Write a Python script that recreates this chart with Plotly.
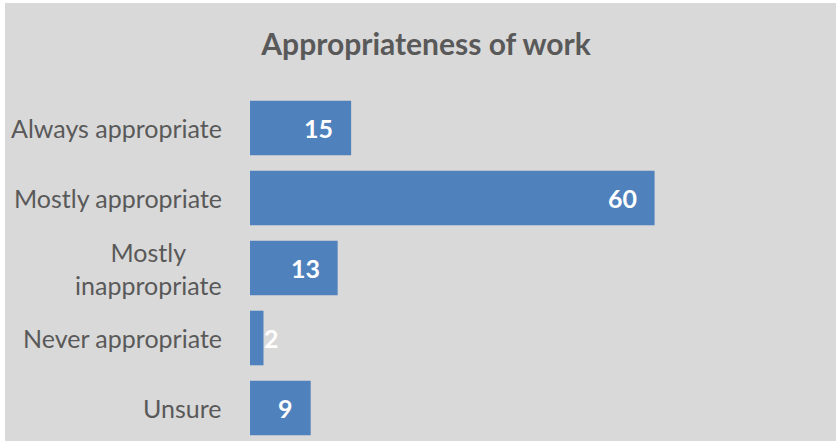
import plotly.graph_objects as go

# Survey responses: appropriateness of work
categories = ["Always appropriate", "Mostly appropriate", "Mostly<br>inappropriate",
              "Never appropriate", "Unsure"]
counts = [15, 60, 13, 2, 9]
title_text = "Appropriateness of work"

BAR_COLOR = "#4f81bd"
BG = "#d9d9d9"
TEXT_GREY = "#595959"
FONT = "Lato"

W, H = 836, 441
ML, MR, MT, MB = 250, 114, 93, 0
X_MAX = 70
plot_w = W - ML - MR
px_per_unit = plot_w / X_MAX
plot_h = H - MT - MB
row_px = 70.0
y_bottom = -0.5 + plot_h / row_px

idx = list(range(len(categories)))

fig = go.Figure(go.Bar(
    x=counts, y=idx, orientation="h",
    marker=dict(color=BAR_COLOR, line=dict(width=0)),
    width=0.78, hoverinfo="skip",
))

annotations = []
# value labels: inside the bar end, or just past it when the bar is too short
for i, v in zip(idx, counts):
    label = f"<b>{v}</b>"
    inside = v * px_per_unit > 40
    annotations.append(dict(
        x=v, y=i, xref="x", yref="y", text=label, showarrow=False,
        xanchor="right" if inside else "left",
        xshift=-16 if inside else -1,
        font=dict(family=FONT, size=25, color="white"),
    ))
# category labels, centred line by line
for i, c in zip(idx, categories):
    annotations.append(dict(
        x=0, y=i, xref="paper", yref="y", text=c, showarrow=False,
        xanchor="right", xshift=-26, align="center",
        font=dict(family=FONT, size=25, color=TEXT_GREY),
    ))

fig.update_layout(
    width=W, height=H,
    margin=dict(l=ML, r=MR, t=MT, b=MB, pad=0),
    paper_bgcolor="white", plot_bgcolor=BG,
    showlegend=False,
    title=dict(text=f"<b>{title_text}</b>", x=426 / W, xanchor="center",
               y=1 - 44 / H, yanchor="middle", xref="container", yref="container",
               font=dict(family=FONT, size=30, color=TEXT_GREY)),
    xaxis=dict(range=[0, X_MAX], visible=False, fixedrange=True),
    yaxis=dict(range=[y_bottom, -0.5], showticklabels=False, showgrid=False,
               zeroline=False, ticks="", fixedrange=True),
    annotations=annotations,
    shapes=[dict(type="rect", xref="paper", yref="paper", layer="below",
                 x0=(5 - ML) / plot_w, x1=(W + 10 - ML) / plot_w,
                 y0=-0.1, y1=1 + (MT - 3) / plot_h,
                 fillcolor=BG, line=dict(width=0))],
)

fig.write_html("out.html")
